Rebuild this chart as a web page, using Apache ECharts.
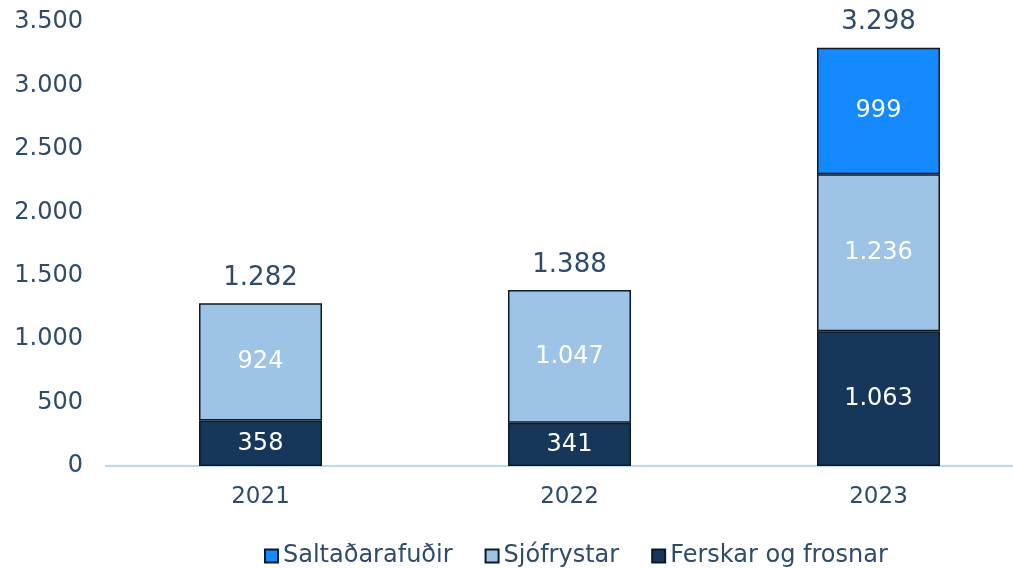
<!DOCTYPE html>
<html><head><meta charset="utf-8">
<script src="https://cdn.jsdelivr.net/npm/echarts@6/dist/echarts.min.js"></script>
<style>html,body{margin:0;padding:0;background:#fff;overflow:hidden}#c{width:1040px;height:568px}</style>
</head><body><div id="c"></div>
<script>
var categories = ['2021', '2022', '2023'];
var ferskar = [358, 341, 1063];
var sjofrystar = [924, 1047, 1236];
var saltadarafudir = [null, null, 999];
var totals = [1282, 1388, 3298];
var seriesNames = ['Saltaðarafuðir', 'Sjófrystar', 'Ferskar og frosnar'];

function fmt(v) {
  return String(v).replace(/\B(?=(\d{3})+(?!\d))/g, '.');
}
var textColor = '#2f4b6c';
var font = 'DejaVu Sans';
var chart = echarts.init(document.getElementById('c'));
var inLabel = {show: true, position: 'inside', color: '#ffffff', fontSize: 24, fontFamily: font,
  formatter: function (p) { return fmt(p.value); }};
chart.setOption({
  animation: false,
  grid: {left: 106, top: 22, width: 927, height: 444, containLabel: false},
  legend: {
    data: seriesNames, bottom: -5, left: 259,
    itemWidth: 13, itemHeight: 13, itemGap: 32,
    textStyle: {color: textColor, fontSize: 24, fontFamily: font},
    icon: 'rect'
  },
  xAxis: {
    type: 'category', data: categories,
    axisLine: {lineStyle: {color: '#bdd7ee', width: 2}},
    axisTick: {show: false},
    axisLabel: {color: textColor, fontSize: 23, fontFamily: font, margin: 20}
  },
  yAxis: {
    type: 'value', min: 0, max: 3500, interval: 500,
    splitLine: {show: false},
    axisLine: {show: false}, axisTick: {show: false},
    axisLabel: {color: textColor, fontSize: 24, fontFamily: font, margin: 23,
      formatter: function (v) { return fmt(v); }}
  },
  series: [
    {name: 'Ferskar og frosnar', type: 'bar', stack: 's', data: ferskar, barWidth: 123,
      itemStyle: {color: '#17375a', borderColor: '#0d1a26', borderWidth: 1.5}, label: inLabel},
    {name: 'Sjófrystar', type: 'bar', stack: 's', data: sjofrystar,
      itemStyle: {color: '#9dc3e6', borderColor: '#0d1a26', borderWidth: 1.5}, label: inLabel},
    {name: 'Saltaðarafuðir', type: 'bar', stack: 's', data: saltadarafudir,
      itemStyle: {color: '#1589ff', borderColor: '#0d1a26', borderWidth: 1.5}, label: inLabel},
    {name: 'total', type: 'bar', stack: 's', data: totals.map(function () { return 0; }),
      itemStyle: {color: 'transparent'},
      label: {show: true, position: 'top', distance: 12, color: textColor, fontSize: 26, fontFamily: font,
        formatter: function (p) { return fmt(totals[p.dataIndex]); }}}
  ]
});
</script></body></html>
